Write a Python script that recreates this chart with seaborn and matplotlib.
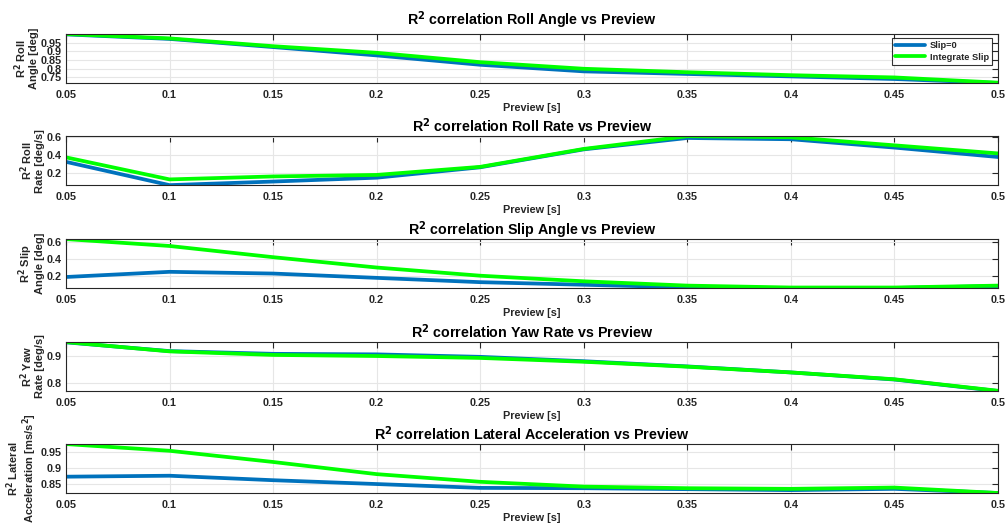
import numpy as np
import pandas as pd
import matplotlib
matplotlib.use("Agg")
import matplotlib.pyplot as plt
from matplotlib.ticker import FuncFormatter
import seaborn as sns

preview = [0.05, 0.1, 0.15, 0.2, 0.25, 0.3, 0.35, 0.4, 0.45, 0.5]

roll_angle_slip0 = [0.998, 0.972, 0.925, 0.877, 0.823, 0.785, 0.770, 0.756, 0.741, 0.718]
roll_angle_integ = [1.000, 0.975, 0.930, 0.892, 0.838, 0.800, 0.780, 0.763, 0.750, 0.720]

roll_rate_slip0 = [0.326, 0.066, 0.106, 0.149, 0.265, 0.465, 0.592, 0.578, 0.485, 0.380]
roll_rate_integ = [0.376, 0.130, 0.163, 0.180, 0.270, 0.470, 0.612, 0.600, 0.510, 0.420]

slip_angle_slip0 = [0.190, 0.250, 0.230, 0.180, 0.130, 0.100, 0.070, 0.062, 0.062, 0.085]
slip_angle_integ = [0.630, 0.550, 0.420, 0.300, 0.205, 0.140, 0.090, 0.068, 0.068, 0.090]

yaw_rate_slip0 = [0.950, 0.918, 0.908, 0.906, 0.897, 0.881, 0.862, 0.840, 0.814, 0.772]
yaw_rate_integ = [0.951, 0.917, 0.904, 0.900, 0.893, 0.879, 0.861, 0.840, 0.815, 0.773]

lat_acc_slip0 = [0.873, 0.876, 0.862, 0.850, 0.838, 0.837, 0.834, 0.831, 0.835, 0.822]
lat_acc_integ = [0.975, 0.954, 0.919, 0.881, 0.857, 0.842, 0.837, 0.835, 0.839, 0.822]

series_names = ["Slip=0", "Integrate Slip"]
titles = [
    r"R$^\mathbf{2}$ correlation Roll Angle vs Preview",
    r"R$^\mathbf{2}$ correlation Roll Rate vs Preview",
    r"R$^\mathbf{2}$ correlation Slip Angle vs Preview",
    r"R$^\mathbf{2}$ correlation Yaw Rate vs Preview",
    r"R$^\mathbf{2}$ correlation Lateral Acceleration vs Preview",
]
ylabels = [
    "R$^\\mathbf{2}$ Roll\nAngle [deg]",
    "R$^\\mathbf{2}$ Roll\nRate [deg/s]",
    "R$^\\mathbf{2}$ Slip\nAngle [deg]",
    "R$^\\mathbf{2}$ Yaw\nRate [deg/s]",
    "R$^\\mathbf{2}$ Lateral\nAcceleration [ms/s$^\\mathbf{2}$]",
]
yticks = [
    [0.75, 0.8, 0.85, 0.9, 0.95],
    [0.2, 0.4, 0.6],
    [0.2, 0.4, 0.6],
    [0.8, 0.9],
    [0.85, 0.9, 0.95],
]
xticks = [0.05, 0.1, 0.15, 0.2, 0.25, 0.3, 0.35, 0.4, 0.45, 0.5]

data_pairs = [
    (roll_angle_slip0, roll_angle_integ),
    (roll_rate_slip0, roll_rate_integ),
    (slip_angle_slip0, slip_angle_integ),
    (yaw_rate_slip0, yaw_rate_integ),
    (lat_acc_slip0, lat_acc_integ),
]

sns.set_style("white")
plt.rcParams["font.family"] = ["Liberation Sans", "DejaVu Sans"]
plt.rcParams["font.weight"] = "bold"
plt.rcParams["mathtext.default"] = "bf"

fig = plt.figure(figsize=(10.07, 5.32), dpi=100)
left, width, height = 0.0655, 0.9255, 0.092
bottoms = [0.844, 0.652, 0.4586, 0.265, 0.0733]
title_pads = [6.5, 3, 3, 3, 3]
palette = {"Slip=0": "#0072BD", "Integrate Slip": "#00FF00"}
axcol = "#262626"

for i, (s0, s1) in enumerate(data_pairs):
    ax = fig.add_axes([left, bottoms[i], width, height])
    df = pd.DataFrame({
        "Preview": preview * 2,
        "R2": list(s0) + list(s1),
        "Series": [series_names[0]] * len(preview) + [series_names[1]] * len(preview),
    })
    sns.lineplot(data=df, x="Preview", y="R2", hue="Series", palette=palette,
                 linewidth=2.7, ax=ax, legend=(i == 0))
    allv = list(s0) + list(s1)
    ax.set_xlim(0.05, 0.5)
    ax.set_ylim(min(allv), max(allv))
    ax.set_xticks(xticks)
    ax.set_yticks(yticks[i])
    ax.xaxis.set_major_formatter(FuncFormatter(lambda v, p: "%g" % round(v, 3)))
    ax.yaxis.set_major_formatter(FuncFormatter(lambda v, p: "%g" % round(v, 3)))
    ax.grid(True, color="#e6e6e6", linewidth=0.8)
    ax.set_axisbelow(True)
    ax.tick_params(direction="in", length=4, width=0.8, top=True, right=True,
                   labelsize=7.8, colors=axcol)
    ax.tick_params(axis="x", pad=5)
    ax.tick_params(axis="y", pad=3)
    for lbl in ax.get_xticklabels() + ax.get_yticklabels():
        lbl.set_fontweight("bold")
    for sp in ax.spines.values():
        sp.set_visible(True)
        sp.set_color(axcol)
        sp.set_linewidth(0.8)
    ax.set_xlabel("Preview [s]", fontsize=7.8, fontweight="bold", color=axcol, labelpad=2)
    ax.set_ylabel(ylabels[i], fontsize=8, fontweight="bold", color=axcol, labelpad=1,
                  linespacing=1.0)
    ax.set_title(titles[i], fontsize=10.3, fontweight="bold", color="black",
                 pad=title_pads[i])
    if i == 0:
        leg = ax.legend(loc="upper right", bbox_to_anchor=(0.9936, 0.918), fontsize=6.7,
                        frameon=True, fancybox=False, edgecolor="black",
                        handlelength=3.2, borderpad=0.35, labelspacing=0.25,
                        handletextpad=0.5, borderaxespad=0)
        leg.get_frame().set_linewidth(0.8)
        for t in leg.get_texts():
            t.set_fontweight("bold")
        for h in leg.get_lines():
            h.set_linewidth(2.7)

fig.savefig("out.png", dpi=100)
